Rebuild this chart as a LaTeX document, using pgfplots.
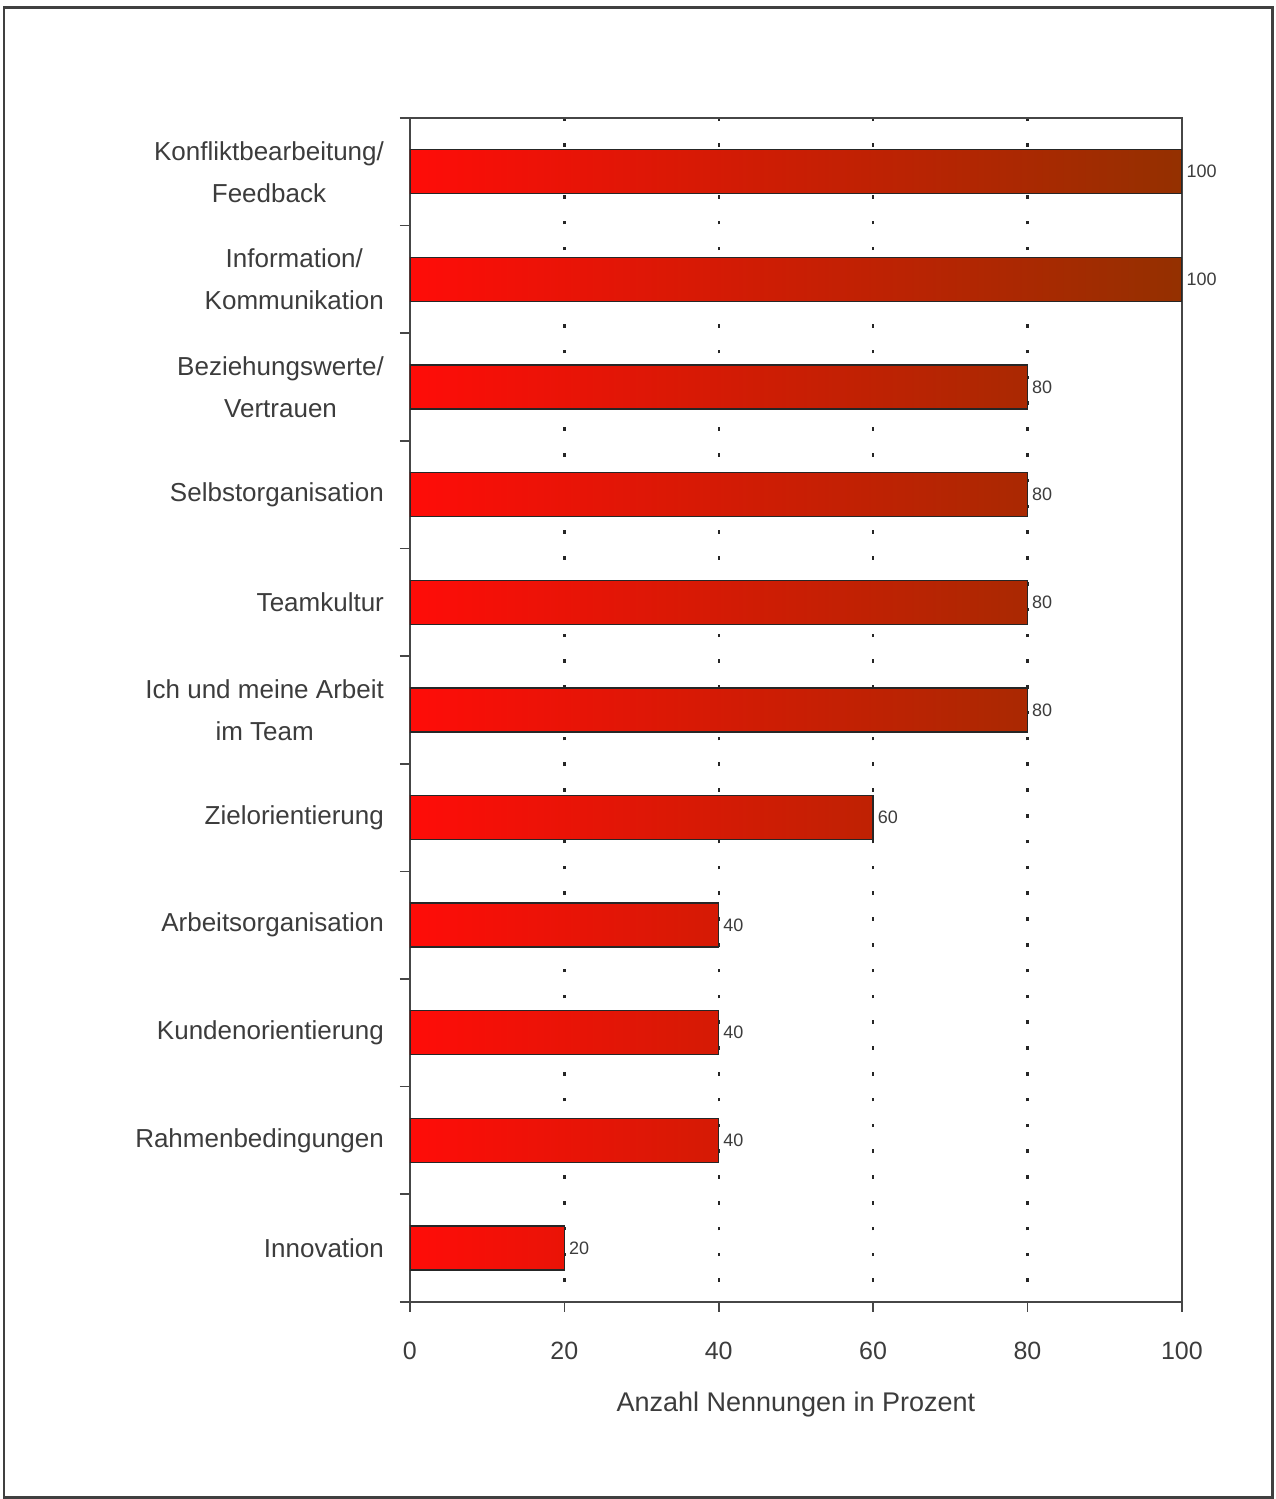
\documentclass[border=0pt]{standalone}
\usepackage{fontspec}
\setmainfont{Liberation Sans}
\usepackage{pgfplots}
\pgfplotsset{compat=1.18}
\definecolor{barleft}{RGB}{255,12,8}
\definecolor{barright}{RGB}{148,48,0}
\definecolor{txt}{RGB}{60,60,60}
\definecolor{axcol}{RGB}{70,70,70}
\begin{document}
\begin{tikzpicture}
\path (0,0) rectangle (638pt,749.5pt);
\draw[line width=1.4pt, black!75] (2pt,0.6pt) rectangle (636.2pt,745.6pt);
\begin{axis}[
  at={(205pt,98.5pt)}, anchor=south west,
  scale only axis, width=386pt, height=592pt,
  xmin=0, xmax=100, ymin=-0.5, ymax=10.5,
  xtick={0,20,40,60,80,100},
  ytick={-0.5,0.5,...,10.5},
  y tick label as interval,
  yticklabels={Innovation,Rahmenbedingungen,Kundenorientierung,Arbeitsorganisation,Zielorientierung,{Ich und meine Arbeit\\im Team},Teamkultur,Selbstorganisation,{Beziehungswerte/\\Vertrauen},{Information/\\Kommunikation},{Konfliktbearbeitung/\\Feedback}},
  tick align=outside, tick pos=left, major tick length=5pt,
  tick style={axcol, line width=0.8pt},
  axis line style={axcol, line width=0.8pt},
  xmajorgrids,
  major grid style={black!85, line width=1.2pt, dash pattern=on 1.8pt off 11.1pt, dash phase=3pt},
  /pgf/number format/assume math mode=true,
  xticklabel style={font=\fontsize{12.5}{14}\selectfont, text=txt, yshift=-11.5pt},
  yticklabel style={font=\fontsize{13}{21}\selectfont, text=txt, align=center, xshift=-4.5pt},
  xlabel={Anzahl Nennungen in Prozent},
  xlabel style={font=\fontsize{13.5}{16}\selectfont, text=txt, yshift=-9.5pt},
  xbar, bar width=22pt,
  nodes near coords,
  every node near coord/.append style={font=\fontsize{9}{10}\selectfont, text=txt, anchor=west, inner sep=2pt},
]
\addplot[draw=black!85, line width=0.7pt, left color=barleft, right color=barright]
  coordinates {(100,10) (100,9) (80,8) (80,7) (80,6) (80,5) (60,4) (40,3) (40,2) (40,1) (20,0)};
\end{axis}
\end{tikzpicture}
\end{document}
